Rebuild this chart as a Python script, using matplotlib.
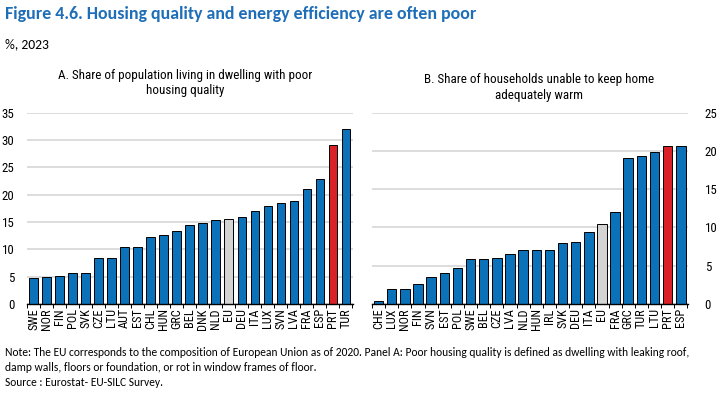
import numpy as np
import matplotlib
matplotlib.use("Agg")
import matplotlib.pyplot as plt

# ---- data ----
cats_a = ["SWE", "NOR", "FIN", "POL", "SVK", "CZE", "LTU", "AUT", "EST", "CHL", "HUN", "GRC", "BEL",
          "DNK", "NLD", "EU", "DEU", "ITA", "LUX", "SVN", "LVA", "FRA", "ESP", "PRT", "TUR"]
vals_a = [4.7, 4.9, 5.2, 5.6, 5.7, 8.4, 8.5, 10.4, 10.4, 12.3, 12.6, 13.4, 14.4,
          14.9, 15.3, 15.5, 16.0, 17.0, 17.9, 18.4, 18.8, 21.1, 22.9, 29.0, 32.0]

cats_b = ["CHE", "LUX", "NOR", "FIN", "SVN", "EST", "POL", "SWE", "BEL", "CZE", "LVA", "NLD",
          "HUN", "IRL", "SVK", "DEU", "ITA", "EU", "FRA", "GRC", "TUR", "LTU", "PRT", "ESP"]
vals_b = [0.45, 2.0, 2.0, 2.6, 3.5, 4.05, 4.65, 5.85, 5.9, 6.0, 6.5, 7.0,
          7.1, 7.1, 8.0, 8.1, 9.4, 10.5, 12.0, 19.1, 19.4, 19.9, 20.7, 20.7]

yticks_a = [0, 5, 10, 15, 20, 25, 30, 35]
yticks_b = [0, 5, 10, 15, 20, 25]

BLUE = "#0B72BA"
RED = "#DA2128"
GREY = "#D4D4D4"
TITLE_BLUE = "#1F6EB8"

def colours(cats):
    out = []
    for c in cats:
        if c == "EU":
            out.append(GREY)
        elif c == "PRT":
            out.append(RED)
        else:
            out.append(BLUE)
    return out

NARROW = ["Roboto Condensed", "Archivo Narrow", "DejaVu Sans"]
CAL = ["Carlito", "DejaVu Sans"]
plt.rcParams["font.family"] = NARROW

W, H = 727, 396
fig = plt.figure(figsize=(W / 100, H / 100), dpi=100)

def fy(py):
    return 1 - py / H

def panel(rect, cats, vals, yticks, width, xlim, right=False):
    ax = fig.add_axes(rect)
    x = np.arange(len(cats))
    ax.bar(x, vals, width=width, color=colours(cats), edgecolor="black", linewidth=0.7, zorder=3)
    ax.set_xlim(*xlim)
    ax.set_ylim(yticks[0], yticks[-1])
    ax.set_yticks(yticks)
    ax.yaxis.grid(True, color="#DADADA", linewidth=1.3, zorder=0)
    ax.set_axisbelow(True)
    for s in ["top", "left", "right"]:
        ax.spines[s].set_visible(False)
    ax.spines["bottom"].set_linewidth(1.0)
    ax.spines["bottom"].set_zorder(4)
    ax.set_xticks(x)
    ax.set_xticklabels(cats, rotation=90, fontsize=8.8)
    ax.tick_params(axis="x", which="major", length=0, pad=3)
    ax.set_xticks(np.arange(-0.5, len(cats), 1.0), minor=True)
    ax.tick_params(axis="x", which="minor", length=3, width=0.7)
    ax.tick_params(axis="y", length=0, labelsize=9.3)
    if right:
        ax.yaxis.tick_right()
        ax.tick_params(axis="y", pad=12)
    else:
        ax.tick_params(axis="y", pad=9)
    return ax

ax_a = panel([27 / W, fy(304), 326 / W, (304 - 112.7) / H], cats_a, vals_a, yticks_a, 0.65, (-0.5, 24.55))
ax_b = panel([372 / W, fy(304), 316 / W, (304 - 112.7) / H], cats_b, vals_b, yticks_b, 0.72, (-0.45, 23.55), right=True)

fig.text(5 / W, fy(14), "Figure 4.6. Housing quality and energy efficiency are often poor",
         fontsize=12.9, fontweight="bold", color=TITLE_BLUE, va="center", family=CAL)
fig.text(5 / W, fy(44), "%, 2023", fontsize=9.8, va="center", family=CAL)

sub_a = ["A. Share of population living in dwelling with poor", "housing quality"]
sub_b = ["B. Share of households unable to keep home", "adequately warm"]
for i, line in enumerate(sub_a):
    fig.text(185 / W, fy(75 + 15.5 * i), line, ha="center", va="center", fontsize=9.4)
for i, line in enumerate(sub_b):
    fig.text(539 / W, fy(80 + 15.5 * i), line, ha="center", va="center", fontsize=9.4)

note_lines = [
    "Note: The EU corresponds to the composition of European Union as of 2020. Panel A: Poor housing quality is defined as dwelling with leaking roof,",
    "damp walls, floors or foundation, or rot in window frames of floor.",
    "Source : Eurostat- EU-SILC Survey.",
]
for i, line in enumerate(note_lines):
    fig.text(5 / W, fy(353 + 14.5 * i), line, fontsize=8.3, va="center", family=CAL)

fig.savefig("out.png", dpi=100)
